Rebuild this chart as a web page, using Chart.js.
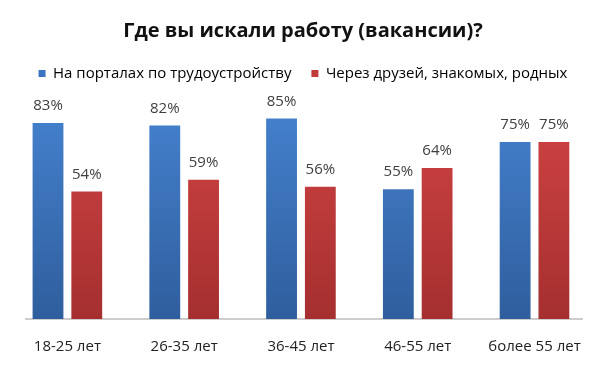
<!DOCTYPE html>
<html>
<head>
<meta charset="utf-8">
<script src="https://cdn.jsdelivr.net/npm/chart.js@4"></script>
<style>
  html, body { margin: 0; padding: 0; background: #fff; }
  #wrap { width: 600px; height: 375px; }
</style>
</head>
<body>
<div id="wrap"><canvas id="jobChart"></canvas></div>
<script>
// ГДЕ ВЫ ИСКАЛИ РАБОТУ - BAR

const ageGroups = ["18-25 лет", "26-35 лет", "36-45 лет", "46-55 лет", "более 55 лет"];
const portalValues = [83, 82, 85, 55, 75];
const friendsValues = [54, 59, 56, 64, 75];
const seriesNames = ["На порталах по трудоустройству", "Через друзей, знакомых, родных"];

const fontFamily = "'Open Sans', 'Noto Sans', sans-serif";

function gradient(ctx, top, bottom) {
    const area = ctx.chart.chartArea;
    if (!area) return top;
    const g = ctx.chart.ctx.createLinearGradient(0, area.top, 0, area.bottom);
    g.addColorStop(0, top);
    g.addColorStop(1, bottom);
    return g;
}

// legend sits closer to the bars than chart.js allows by default
const tightLegend = {
    id: 'tightLegend',
    beforeInit(chart) {
        const fit = chart.legend.fit;
        chart.legend.fit = function () {
            fit.bind(chart.legend)();
            this.height -= 8;
        };
    }
};

// baseline + percent labels above every bar
const valueLabels = {
    id: 'valueLabels',
    beforeDatasetsDraw(chart) {
        const c = chart.ctx;
        const a = chart.chartArea;
        c.save();
        c.strokeStyle = "#bdbdbd";
        c.lineWidth = 1.5;
        c.beginPath();
        c.moveTo(a.left + 16, a.bottom);
        c.lineTo(a.right - 10, a.bottom);
        c.stroke();
        c.restore();
    },
    afterDatasetsDraw(chart) {
        const c = chart.ctx;
        c.save();
        c.font = "15px " + fontFamily;
        c.fillStyle = "#404040";
        c.textAlign = "center";
        c.textBaseline = "middle";
        chart.data.datasets.forEach((ds, i) => {
            chart.getDatasetMeta(i).data.forEach((bar, j) => {
                c.fillText(ds.data[j] + "%", bar.x, bar.y - 17);
            });
        });
        c.restore();
    }
};

const jobDiv = document.getElementById("jobChart");

const jobData = {
    labels: ageGroups,
    datasets: [
        {
            label: seriesNames[0],
            data: portalValues,
            backgroundColor: ctx => gradient(ctx, "#4785d3", "#2f5e9d"),
            barPercentage: 0.795,
            categoryPercentage: 0.664
        },
        {
            label: seriesNames[1],
            data: friendsValues,
            backgroundColor: ctx => gradient(ctx, "#d64646", "#a52f2f"),
            barPercentage: 0.795,
            categoryPercentage: 0.664
        }
    ]
};

const jobChart = new Chart(jobDiv, {
    type: 'bar',
    data: jobData,
    options: {
        responsive: true,
        maintainAspectRatio: false,
        animation: false,
        layout: { padding: { left: 9, right: 3, top: 0, bottom: 0 } },
        plugins: {
            title: {
                display: true,
                text: "Где вы искали работу (вакансии)?",
                color: "#111",
                font: { family: fontFamily, size: 20, weight: 'bold' },
                padding: { top: 19, bottom: 3 }
            },
            legend: {
                labels: {
                    color: "#333",
                    font: { family: fontFamily, size: 15 },
                    boxWidth: 7,
                    boxHeight: 7,
                    padding: 20,
                    generateLabels: chart => chart.data.datasets.map((ds, i) => ({
                        text: ds.label,
                        fillStyle: i === 0 ? "#3b74c2" : "#c23a3a",
                        strokeStyle: "transparent",
                        lineWidth: 0,
                        datasetIndex: i
                    }))
                }
            },
            tooltip: { enabled: false }
        },
        scales: {
            x: {
                grid: { display: false, drawTicks: false },
                border: { display: false },
                ticks: {
                    color: "#222",
                    font: { family: fontFamily, size: 15 },
                    padding: 19
                }
            },
            y: {
                display: false,
                min: 0,
                max: 100
            }
        }
    },
    plugins: [tightLegend, valueLabels]
});
</script>
</body>
</html>
